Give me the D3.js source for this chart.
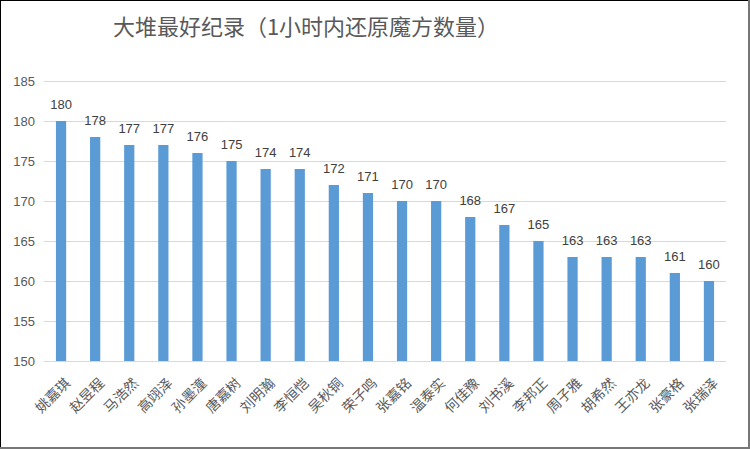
<!DOCTYPE html>
<html lang="zh">
<head>
    <meta charset="UTF-8">
    <title>大堆最好纪录</title>
    <script src="https://d3js.org/d3.v7.min.js"></script>
    <style>
        html, body { margin: 0; padding: 0; background: #fff; }
    </style>
</head>
<body>
<div id="chart"></div>
<script>
    // data
    var names = ['姚嘉琪', '赵昱程', '马浩然', '高翊泽', '孙墨潼', '唐嘉树', '刘明瀚', '李恒恺', '吴秋铜', '荣子鸣',
        '张嘉铭', '温泰实', '何佳豫', '刘书溪', '李邦正', '周子雅', '胡希然', '王亦龙', '张豪格', '张瑞泽'];
    var counts = [180, 178, 177, 177, 176, 175, 174, 174, 172, 171, 170, 170, 168, 167, 165, 163, 163, 163, 161, 160];
    var yTicks = [150, 155, 160, 165, 170, 175, 180, 185];
    var title = '大堆最好纪录（1小时内还原魔方数量）';

    var W = 750, H = 449;
    var margin = {top: 81, right: 24, bottom: 88, left: 44};
    var width = W - margin.left - margin.right,
        height = H - margin.top - margin.bottom;

    var svg = d3.select("#chart").append("svg")
        .attr("width", W)
        .attr("height", H);

    // frame round the chart
    svg.append("rect")
        .attr("x", 0.5).attr("y", 0.5)
        .attr("width", W - 2).attr("height", H - 2)
        .attr("fill", "#fff")
        .attr("stroke", "#000")
        .attr("stroke-width", 1);
    svg.append("path")
        .attr("d", "M" + (W - 1) + ",0V" + (H - 1) + "H0")
        .attr("fill", "none")
        .attr("stroke", "#777")
        .attr("stroke-width", 2);

    svg.append("text")
        .attr("x", 306)
        .attr("y", 35)
        .attr("text-anchor", "middle")
        .style("font-family", "'Noto Sans CJK SC', sans-serif")
        .style("font-size", "22px")
        .style("fill", "#595959")
        .text(title);

    var g = svg.append("g")
        .attr("transform", "translate(" + margin.left + "," + margin.top + ")");

    var x = d3.scaleBand()
        .domain(names)
        .range([0, width])
        .paddingInner(0.7)
        .paddingOuter(0.35);

    var y = d3.scaleLinear()
        .domain([150, 185])
        .range([height, 0]);

    // gridlines
    g.selectAll(".grid")
        .data(yTicks)
        .enter().append("line")
        .attr("x1", 0).attr("x2", width)
        .attr("y1", function (d) { return Math.round(y(d)) + 0.5; })
        .attr("y2", function (d) { return Math.round(y(d)) + 0.5; })
        .attr("stroke", "#d9d9d9")
        .attr("stroke-width", 1);

    // y axis labels
    var yAxis = g.append("g")
        .call(d3.axisLeft(y).tickValues(yTicks).tickSize(0).tickPadding(9));
    yAxis.select(".domain").remove();
    yAxis.selectAll("text")
        .style("font-family", "'Liberation Sans', sans-serif")
        .style("font-size", "13px")
        .style("fill", "#595959");

    // bars
    g.selectAll(".bar")
        .data(counts)
        .enter().append("rect")
        .attr("x", function (d, i) { return x(names[i]); })
        .attr("y", function (d) { return y(d); })
        .attr("width", x.bandwidth())
        .attr("height", function (d) { return height - y(d); })
        .attr("fill", "#5b9bd5");

    // value labels
    g.selectAll(".val")
        .data(counts)
        .enter().append("text")
        .attr("x", function (d, i) { return x(names[i]) + x.bandwidth() / 2; })
        .attr("y", function (d) { return y(d) - 12; })
        .attr("text-anchor", "middle")
        .style("font-family", "'Liberation Sans', sans-serif")
        .style("font-size", "13px")
        .style("fill", "#404040")
        .text(function (d) { return d; });

    // x axis labels, rotated
    var xAxis = g.append("g")
        .attr("transform", "translate(0," + height + ")")
        .call(d3.axisBottom(x).tickSize(0).tickPadding(0));
    xAxis.select(".domain").remove();
    xAxis.selectAll("text")
        .attr("dy", null)
        .attr("y", 0)
        .attr("transform", "translate(10,23)rotate(-45)")
        .style("text-anchor", "end")
        .style("font-family", "'Noto Sans CJK SC', sans-serif")
        .style("font-size", "14px")
        .style("fill", "#595959");
</script>
</body>
</html>
